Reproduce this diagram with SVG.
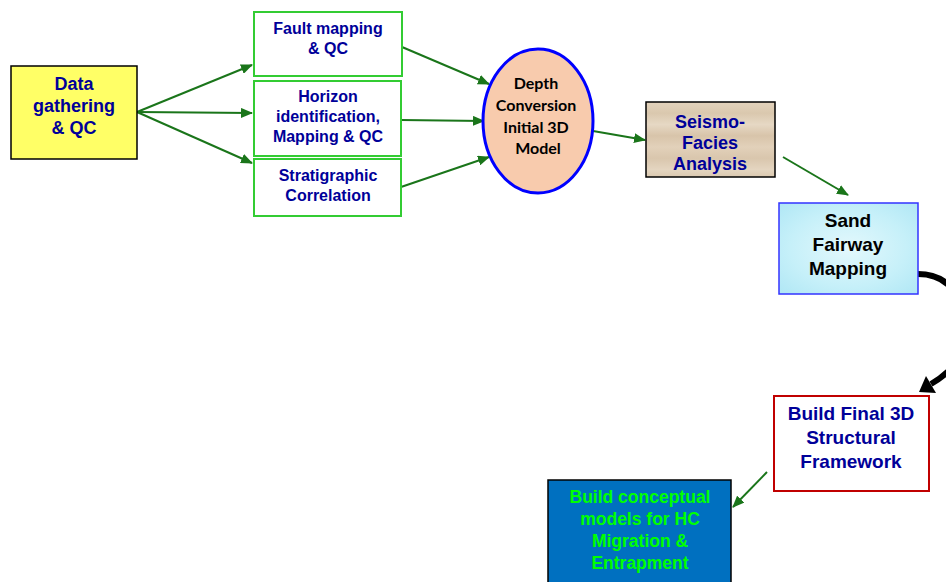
<svg xmlns="http://www.w3.org/2000/svg" width="946" height="582" viewBox="0 0 946 582">
<style>
.t{font-family:"Liberation Sans",Arial,sans-serif;font-weight:bold;text-anchor:middle}
.blue{fill:#000099}
.gbox{fill:#ffffff;stroke:#33cc33;stroke-width:2}
.conn{stroke:#1a751a;stroke-width:2;fill:none}
</style>
<defs>
<marker id="ah" viewBox="0 0 12 10" refX="11" refY="5" markerWidth="12" markerHeight="10" markerUnits="userSpaceOnUse" orient="auto">
<path d="M0,0 L12,5 L0,10 Z" fill="#1a751a"/>
</marker>
<linearGradient id="wood" x1="0" y1="0" x2="0" y2="1">
<stop offset="0" stop-color="#e3d3bd"/>
<stop offset="0.15" stop-color="#dac8ae"/>
<stop offset="0.3" stop-color="#e6d8c4"/>
<stop offset="0.45" stop-color="#d8c4aa"/>
<stop offset="0.6" stop-color="#e2d1ba"/>
<stop offset="0.75" stop-color="#d9c6ad"/>
<stop offset="0.9" stop-color="#e4d5c0"/>
<stop offset="1" stop-color="#dbc9b0"/>
</linearGradient>
<radialGradient id="water" cx="0.5" cy="0.5" r="0.7">
<stop offset="0" stop-color="#e3f8fc"/>
<stop offset="0.6" stop-color="#c6f0f9"/>
<stop offset="1" stop-color="#b0e7f5"/>
</radialGradient>
</defs>
<rect width="946" height="582" fill="#ffffff"/>

<g id="connectors">
<line class="conn" x1="137" y1="112" x2="252" y2="65" marker-end="url(#ah)"/>
<line class="conn" x1="137" y1="112" x2="252" y2="113" marker-end="url(#ah)"/>
<line class="conn" x1="137" y1="112" x2="252" y2="163" marker-end="url(#ah)"/>
<line class="conn" x1="402" y1="47" x2="489" y2="84" marker-end="url(#ah)"/>
<line class="conn" x1="401" y1="120" x2="484" y2="121" marker-end="url(#ah)"/>
<line class="conn" x1="401" y1="187" x2="489" y2="157" marker-end="url(#ah)"/>
<line class="conn" x1="593" y1="131" x2="645" y2="140" marker-end="url(#ah)"/>
<line class="conn" x1="783" y1="157" x2="848" y2="195" marker-end="url(#ah)"/>
<line class="conn" x1="767" y1="472" x2="733" y2="507" marker-end="url(#ah)"/>
<path d="M918,274 C950,274 966,300 966,330 C966,354 952,372 931,384" stroke="#000000" stroke-width="6" fill="none"/>
<polygon points="919,392 936,393 926,376" fill="#000000"/>
</g>

<g id="data">
<rect x="11" y="66" width="126" height="93" fill="#ffff66" stroke="#000000" stroke-width="1.5"/>
<text class="t blue" font-size="18" x="74" y="90">Data</text>
<text class="t blue" font-size="18" x="74" y="112">gathering</text>
<text class="t blue" font-size="18" x="74" y="134">&amp; QC</text>
</g>

<g id="fault">
<rect class="gbox" x="254" y="12" width="148" height="64"/>
<text class="t blue" font-size="16" x="328" y="34">Fault mapping</text>
<text class="t blue" font-size="16" x="328" y="54">&amp; QC</text>
</g>

<g id="horizon">
<rect class="gbox" x="254" y="81" width="147" height="75"/>
<text class="t blue" font-size="16" x="328" y="102">Horizon</text>
<text class="t blue" font-size="16" x="328" y="122">identification,</text>
<text class="t blue" font-size="16" x="328" y="142">Mapping &amp; QC</text>
</g>

<g id="strat">
<rect class="gbox" x="254" y="159" width="147" height="57"/>
<text class="t blue" font-size="16" x="328" y="181">Stratigraphic</text>
<text class="t blue" font-size="16" x="328" y="201">Correlation</text>
</g>

<g id="depth">
<ellipse cx="538" cy="121" rx="55" ry="72" fill="#f8cbad" stroke="#0000ff" stroke-width="3"/>
<text font-family="Lato,'Open Sans',sans-serif" font-weight="bold" font-size="16" text-anchor="middle" fill="#000000">
<tspan x="538" y="89">Depth</tspan>
<tspan x="538" y="111">Conversion</tspan>
<tspan x="538" y="133">Initial 3D</tspan>
<tspan x="538" y="154">Model</tspan>
</text>
</g>

<g id="seismo">
<rect x="646" y="102" width="129" height="75" fill="url(#wood)" stroke="#000000" stroke-width="1.5"/>
<text class="t blue" font-size="18" x="710" y="128">Seismo-</text>
<text class="t blue" font-size="18" x="710" y="149">Facies</text>
<text class="t blue" font-size="18" x="710" y="170">Analysis</text>
</g>

<g id="sand">
<rect x="779" y="203" width="139" height="91" fill="url(#water)" stroke="#3333ff" stroke-width="1.5"/>
<text class="t" font-size="19" fill="#000000" x="848" y="227">Sand</text>
<text class="t" font-size="19" fill="#000000" x="848" y="251">Fairway</text>
<text class="t" font-size="19" fill="#000000" x="848" y="275">Mapping</text>
</g>

<g id="final">
<rect x="774" y="396" width="155" height="95" fill="#ffffff" stroke="#c00000" stroke-width="2"/>
<text class="t blue" font-size="19" x="851" y="420">Build Final 3D</text>
<text class="t blue" font-size="19" x="851" y="444">Structural</text>
<text class="t blue" font-size="19" x="851" y="468">Framework</text>
</g>

<g id="concept">
<rect x="548" y="480" width="183" height="110" fill="#0070c0" stroke="#000000" stroke-width="1.5"/>
<text class="t" font-size="17.5" fill="#00ff00" x="640" y="503">Build conceptual</text>
<text class="t" font-size="17.5" fill="#00ff00" x="640" y="525">models for HC</text>
<text class="t" font-size="17.5" fill="#00ff00" x="640" y="547">Migration &amp;</text>
<text class="t" font-size="17.5" fill="#00ff00" x="640" y="569">Entrapment</text>
</g>
</svg>
